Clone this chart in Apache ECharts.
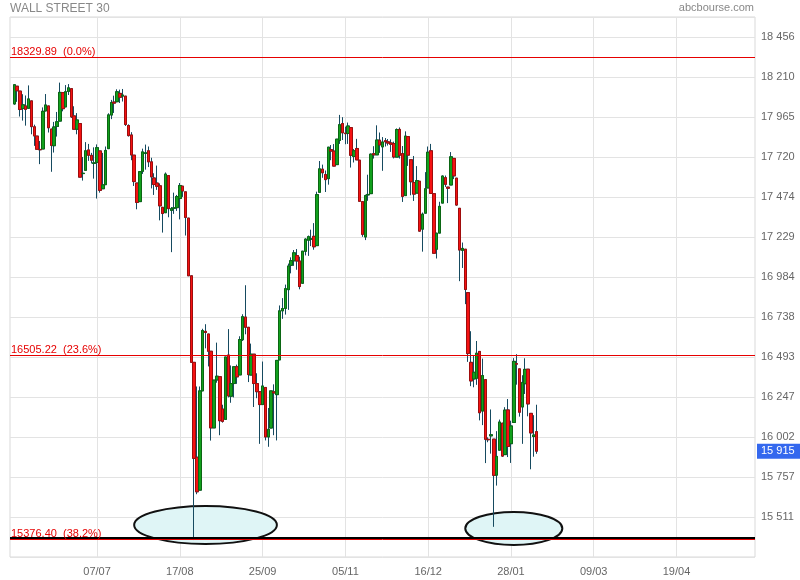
<!DOCTYPE html>
<html><head><meta charset="utf-8">
<script src="https://cdn.jsdelivr.net/npm/echarts@6/dist/echarts.min.js"></script>
<style>html,body{margin:0;padding:0;background:#fff}#c{width:800px;height:580px}</style>
</head><body><div id="c"></div>
<script>
const chartTitle = 'WALL STREET 30';
const sourceText = 'abcbourse.com';
const axisStart = '2015-05-26', axisEnd = '2016-05-26';
const closedDays = ['2015-12-25', '2016-01-01'];
const firstCandle = '2015-05-27';

// daily candles, [open, high, low, close]
const may15 = [
[18045,18166,18041,18163],[18154,18154,18058,18126],[18124,18124,17968,18011]];
const jun15 = [
[18017,18105,17943,18040],[18033,18097,17912,18012],[18018,18159,18018,18076],[18064,18064,17859,17906],[17905,17918,17788,17849],
[17848,17848,17766,17767],[17766,17818,17676,17764],[17769,18024,17769,18000],[18002,18106,18002,18039],[18033,18033,17870,17899],
[17891,17891,17629,17791],[17789,17935,17747,17904],[17907,17996,17845,17936],[17940,18176,17940,18116],[18115,18116,18000,18016],
[18027,18161,18027,18120],[18122,18167,18100,18144],[18139,18139,17959,17966],[17972,18031,17889,17890],[17890,17989,17859,17947],
[17925,17925,17596,17596],[17618,17720,17575,17620]];
const jul15 = [
[17638,17811,17638,17758],[17763,17800,17696,17730],[17730,17745,17680,17700],
[17680,17779,17587,17684],[17687,17797,17465,17777],[17757,17757,17501,17515],[17525,17745,17525,17549],[17550,17784,17550,17760],
[17771,17988,17771,17978],[17977,18070,17952,18054],[18057,18096,17990,18050],[18059,18135,18055,18120],[18110,18133,18051,18086],
[18093,18137,18060,18100],[18093,18093,17910,17919],[17913,17920,17845,17851],[17855,17872,17700,17732],[17731,17731,17542,17569],
[17560,17560,17399,17441],[17446,17633,17446,17630],[17632,17771,17616,17751],[17741,17796,17642,17746],[17758,17784,17658,17690]];
const aug15 = [
[17690,17715,17527,17598],[17591,17620,17487,17551],[17560,17667,17518,17540],[17543,17558,17331,17420],[17411,17411,17256,17373],
[17378,17625,17378,17615],[17606,17606,17350,17403],[17392,17413,17136,17403],[17405,17501,17371,17408],[17409,17487,17389,17477],
[17465,17560,17337,17545],[17541,17541,17475,17511],[17506,17506,17238,17349],[17345,17345,16991,16991],[16991,16991,16459,16460],
[16460,16460,15370,15871],[15878,16312,15651,15666],[15676,16312,15676,16285],[16285,16666,16285,16655],[16650,16694,16546,16643],
[16634,16634,16435,16528]];
const sep15 = [
[16528,16528,15980,16058],[16058,16351,16058,16351],[16352,16581,16335,16375],[16372,16372,16013,16102],
[16174,16200,16090,16098],[16110,16493,16110,16493],[16505,16664,16245,16254],[16252,16441,16212,16330],[16330,16434,16245,16433],
[16433,16446,16328,16371],[16383,16620,16383,16600],[16599,16755,16591,16740],[16738,16933,16632,16675],[16675,16675,16339,16385],
[16382,16575,16382,16510],[16510,16510,16186,16330],[16330,16393,16240,16280],[16280,16280,15960,16201],[16201,16465,16201,16315],
[16306,16306,15981,16002],[16002,16180,15942,16049],[16057,16285,16057,16285]];
const oct15 = [
[16279,16325,16013,16272],[16262,16472,15981,16472],
[16475,16809,16475,16776],[16776,16854,16727,16790],[16791,16937,16753,16912],[16906,17066,16782,17051],[17055,17104,17006,17084],
[17083,17149,17052,17132],[17115,17155,17028,17082],[17082,17108,16908,16925],[16945,17143,16945,17142],[17141,17221,17116,17216],
[17209,17238,17113,17231],[17216,17274,17173,17217],[17233,17314,17151,17169],[17176,17507,17176,17489],[17503,17695,17503,17647],
[17645,17673,17592,17623],[17612,17637,17505,17581],[17587,17780,17550,17780],[17765,17793,17700,17756],[17756,17799,17663,17664]];
const nov15 = [
[17673,17829,17673,17829],[17821,17978,17800,17918],[17925,17964,17824,17868],[17866,17906,17798,17863],[17864,17931,17800,17910],
[17900,17900,17655,17730],[17723,17769,17686,17758],[17772,17831,17702,17702],[17700,17700,17448,17448],[17446,17446,17230,17245],
[17229,17489,17210,17483],[17487,17611,17451,17490],[17495,17741,17495,17737],[17740,17786,17710,17733],[17733,17914,17733,17824],
[17823,17870,17745,17793],[17782,17842,17635,17812],[17820,17836,17784,17813],[17813,17830,17790,17805],[17806,17828,17751,17798],
[17802,17814,17711,17720]];
const dec15 = [
[17719,17895,17719,17888],[17889,17901,17710,17730],[17741,17787,17444,17478],[17483,17877,17483,17848],
[17845,17845,17665,17731],[17703,17703,17485,17568],[17563,17726,17450,17492],[17498,17664,17498,17575],[17571,17571,17262,17265],
[17277,17379,17139,17369],[17375,17627,17375,17525],[17530,17784,17530,17749],[17758,17800,17495,17496],[17495,17495,17128,17129],
[17154,17255,17097,17252],[17253,17445,17253,17417],[17437,17606,17437,17603],[17593,17606,17536,17552],
[17535,17536,17437,17528],[17548,17750,17548,17721],[17711,17714,17584,17604],[17590,17590,17421,17425]];
const jan16 = [
[17405,17405,16958,17149],[17147,17195,17039,17159],[17154,17154,16817,16907],[16888,16888,16463,16514],[16460,16651,16314,16346],
[16358,16503,16307,16399],[16362,16591,16322,16516],[16527,16528,16104,16151],[16161,16483,16075,16379],[16354,16354,15842,15988],
[15988,16000,15970,15985],[16009,16171,15900,16016],[15989,15989,15451,15767],[15768,16038,15704,15883],[15921,16109,15921,16094],
[16087,16087,15880,15885],[15894,16185,15894,16167],[16168,16235,15879,15944],[15961,16102,15843,16070],[16091,16486,16091,16466]];
const feb16 = [
[16452,16510,16323,16449],[16420,16420,16127,16154],[16186,16381,15960,16337],[16329,16485,16266,16417],[16418,16418,16129,16205],
[16147,16147,15804,16027],[16005,16136,15881,16014],[16035,16200,15899,15915]];

const xTickLabels = ['07/07','17/08','25/09','05/11','16/12','28/01','09/03','19/04'];
const yTickLabels = ['15 511','15 757','16 002','16 247','16 493','16 738','16 984','17 229','17 474','17 720','17 965','18 210','18 456'];
const yMin = 15265.92, yStep = 245.38, ySteps = 13.5;
const fibLevels = [18329.89, 16505.22, 15376.40];
const fibPcts = ['0.0%', '23.6%', '38.2%'];
const supportLevel = 15382;
// ellipse annotations: [from date, to date, top value, bottom value]
const ellipses = [
  ['2015-07-24', '2015-10-02', 15579, 15346],
  ['2016-01-06', '2016-02-23', 15542, 15340]
];

const candles = [].concat(may15, jun15, jul15, aug15, sep15, oct15, nov15, dec15, jan16, feb16);

const cats = [];
for (let d = new Date(axisStart + 'T00:00:00Z'); d <= new Date(axisEnd + 'T00:00:00Z'); d.setUTCDate(d.getUTCDate() + 1)) {
  const wd = d.getUTCDay();
  if (wd === 0 || wd === 6) continue;
  const s = d.toISOString().slice(0, 10);
  if (closedDays.includes(s)) continue;
  cats.push(s);
}
const start = cats.indexOf(firstCandle);
const full = cats.map((c, i) => {
  const k = i - start;
  if (k < 0 || k >= candles.length) return '-';
  const [o, h, l, cl] = candles[k];
  return [o, cl, l, h];
});
const bodies = full.map(v => v === '-' ? '-' : [v[0], v[1], Math.min(v[0], v[1]), Math.max(v[0], v[1])]);
const lastClose = candles[candles.length - 1][3];

const dm = s => s.slice(8, 10) + '/' + s.slice(5, 7);
const sp = n => Math.round(n).toString().replace(/\B(?=(\d{3})+(?!\d))/g, ' ');
const showTick = (i, v) => xTickLabels.includes(dm(v));
const font = '"Liberation Sans", Arial, sans-serif';

const chart = echarts.init(document.getElementById('c'), null, {renderer: 'canvas'});
const markData = fibLevels.map((v, i) => ({
  yAxis: v,
  lineStyle: {color: '#e60000', width: 1, type: 'solid'},
  label: {show: true, position: 'insideStartTop', formatter: v.toFixed(2) + '  (' + fibPcts[i] + ')',
          color: '#e60000', fontSize: 11, fontFamily: font, distance: [1, 0]}
}));
markData.push({yAxis: supportLevel, lineStyle: {color: '#000', width: 2, type: 'solid'}, label: {show: false}});
markData.push({yAxis: lastClose, lineStyle: {color: 'rgba(0,0,0,0)', width: 0},
  label: {show: true, position: 'end', formatter: sp(lastClose), color: '#fff', backgroundColor: '#3468ee',
          padding: [2, 8, 2, 4], fontSize: 11, fontFamily: font, distance: 2}});

chart.setOption({
  animation: false,
  textStyle: {fontFamily: font},
  title: [
    {text: chartTitle, left: 10, top: 3, padding: 0, textStyle: {fontSize: 12, fontWeight: 'normal', color: '#888', fontFamily: font}},
    {text: sourceText, right: 46, top: 2, padding: 0, textStyle: {fontSize: 11, fontWeight: 'normal', color: '#888', fontFamily: font}}
  ],
  grid: {left: 10, right: 45, top: 17, bottom: 23, show: true, borderColor: '#d9d9d9', borderWidth: 1, backgroundColor: '#fff'},
  xAxis: {
    type: 'category', data: cats, boundaryGap: true,
    axisLine: {show: false}, axisTick: {show: false},
    axisLabel: {interval: showTick, formatter: v => dm(v), color: '#666', fontSize: 11, margin: 9},
    splitLine: {show: true, interval: showTick, alignWithLabel: true, lineStyle: {color: '#e3e3e3', width: 1}}
  },
  yAxis: {
    type: 'value', position: 'right', min: yMin, max: yMin + ySteps * yStep, interval: yStep, scale: true,
    axisLine: {show: false}, axisTick: {show: false},
    axisLabel: {color: '#666', fontSize: 11, margin: 6, showMinLabel: false, showMaxLabel: false,
      formatter: v => { const k = Math.round((v - yMin) / yStep) - 1; return yTickLabels[k] || ''; }},
    splitLine: {show: true, lineStyle: {color: '#e3e3e3', width: 1}}
  },
  series: [
    {
      type: 'candlestick', data: full, barWidth: 3, clip: false,
      itemStyle: {color: 'rgba(0,0,0,0)', color0: 'rgba(0,0,0,0)', borderColor: '#164a60', borderColor0: '#164a60', borderWidth: 1},
      markLine: {silent: true, symbol: ['none', 'none'], animation: false, data: markData},
      z: 3
    },
    {
      type: 'candlestick', data: bodies, barWidth: 3,
      itemStyle: {color: '#11a01c', color0: '#f51212', borderColor: '#0b6613', borderColor0: '#a00c0c', borderWidth: 1},
      z: 4
    }
  ]
});

const g = ellipses.map(e => {
  const p1 = chart.convertToPixel({gridIndex: 0}, [e[0], e[2]]);
  const p2 = chart.convertToPixel({gridIndex: 0}, [e[1], e[3]]);
  return {
    type: 'ellipse', z: 1, silent: true,
    shape: {cx: (p1[0] + p2[0]) / 2, cy: (p1[1] + p2[1]) / 2, rx: Math.abs(p2[0] - p1[0]) / 2, ry: Math.abs(p2[1] - p1[1]) / 2},
    style: {fill: '#dff5f6', stroke: '#111', lineWidth: 2}
  };
});
chart.setOption({graphic: g});
</script></body></html>
